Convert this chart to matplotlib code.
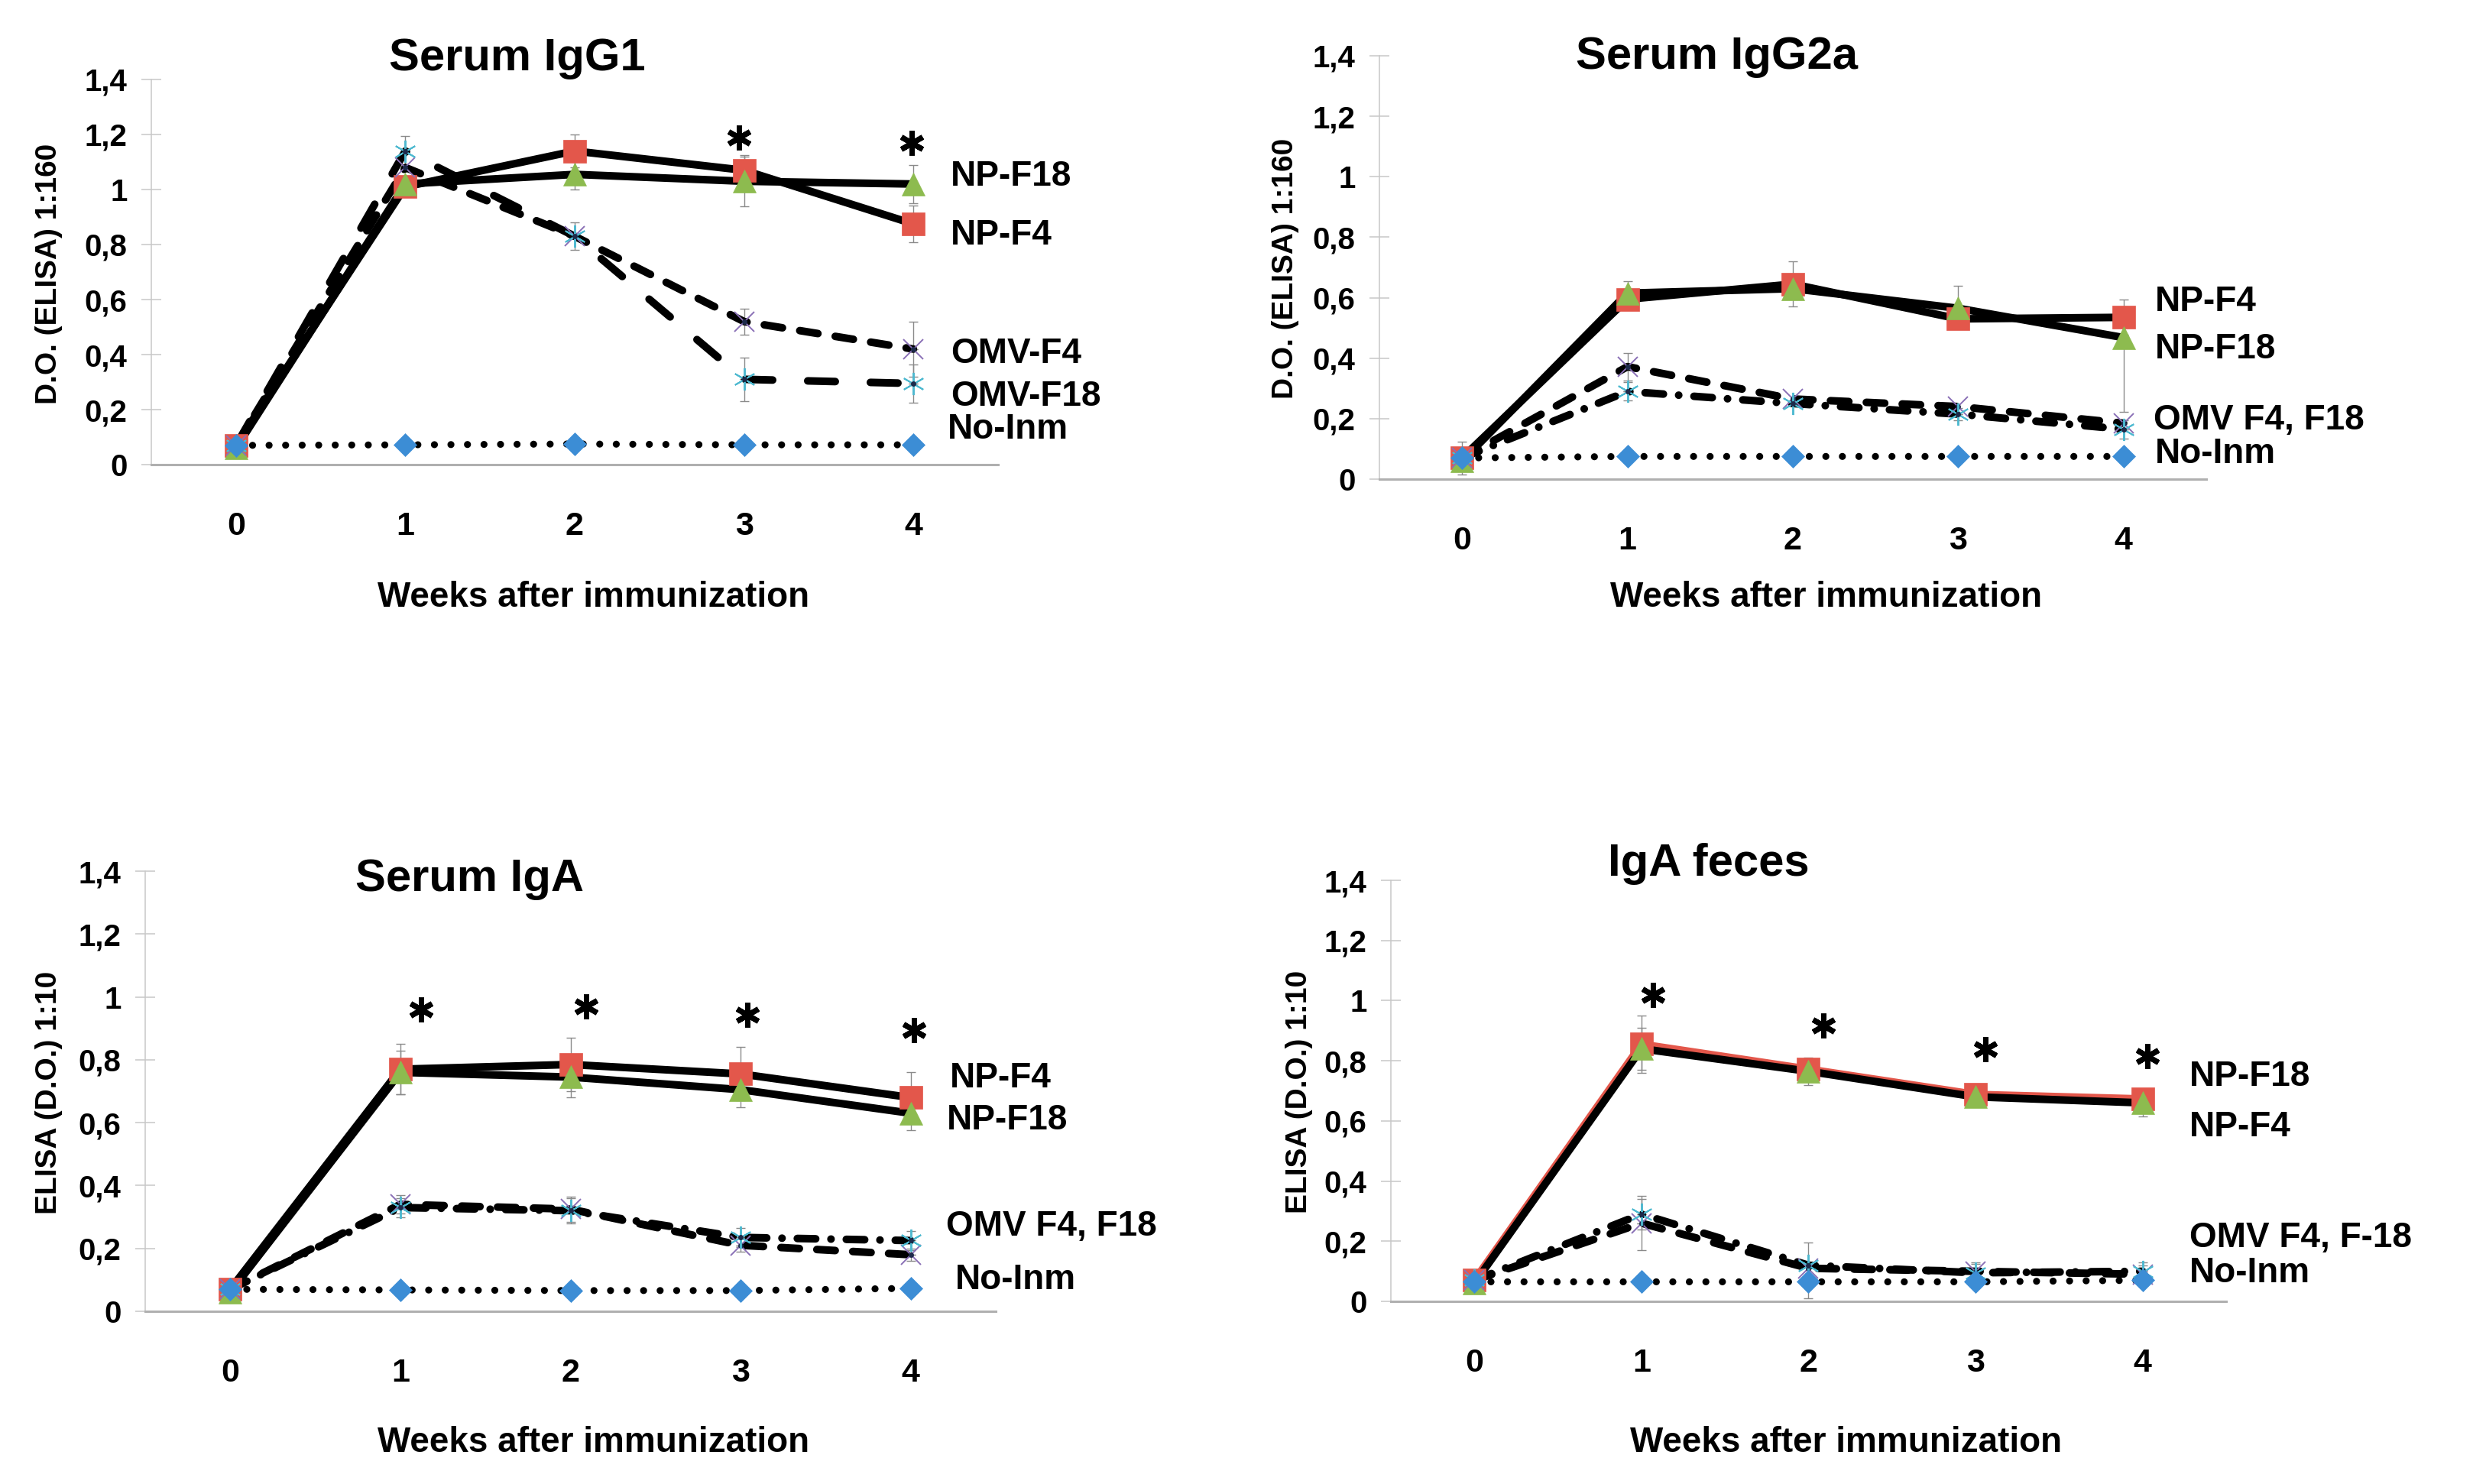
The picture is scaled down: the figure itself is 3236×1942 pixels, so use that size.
import matplotlib
matplotlib.use('Agg')
import matplotlib.pyplot as plt

W, H = 3237, 1942
DPI = 100

# ---------------- data ----------------
weeks = [0, 1, 2, 3, 4]
week_labels = ['0', '1', '2', '3', '4']
ytick_vals = [0, 0.2, 0.4, 0.6, 0.8, 1.0, 1.2, 1.4]
ytick_labels = ['0', '0,2', '0,4', '0,6', '0,8', '1', '1,2', '1,4']

# Serum IgG1
igg1_np_f4 = [0.07, 1.01, 1.14, 1.07, 0.875]
igg1_np_f18 = [0.06, 1.02, 1.055, 1.03, 1.02]
igg1_omv_f4 = [0.07, 1.08, 0.83, 0.52, 0.42]
igg1_omv_f18 = [0.07, 1.14, 0.83, 0.31, 0.295]
igg1_no_inm = [0.07, 0.072, 0.075, 0.072, 0.072]
igg1_np_f4_err = [0.02, 0.0, 0.06, 0.056, 0.067]
igg1_np_f18_err = [0.0, 0.0, 0.055, 0.09, 0.07]
igg1_omv_f4_err = [0.0, 0.0, 0.0, 0.047, 0.10]
igg1_omv_f18_err = [0.0, 0.055, 0.05, 0.08, 0.07]

# Serum IgG2a
igg2a_np_f4 = [0.07, 0.595, 0.645, 0.53, 0.535]
igg2a_np_f18 = [0.06, 0.615, 0.63, 0.565, 0.468]
igg2a_omv_f4 = [0.07, 0.372, 0.265, 0.24, 0.185]
igg2a_omv_f18 = [0.07, 0.29, 0.25, 0.215, 0.165]
igg2a_no_inm = [0.07, 0.075, 0.075, 0.075, 0.075]
igg2a_np_f4_err = [0.055, 0.0, 0.075, 0.0, 0.058]
igg2a_np_f18_err_lo = [0.0, 0.0, 0.0, 0.0, 0.245]
igg2a_np_f18_err_hi = [0.0, 0.04, 0.0, 0.075, 0.0]
igg2a_omv_f4_err = [0.0, 0.045, 0.0, 0.0, 0.0]
igg2a_omv_f18_err = [0.0, 0.03, 0.0, 0.02, 0.03]

# Serum IgA
iga_np_f4 = [0.07, 0.77, 0.785, 0.755, 0.68]
iga_np_f18 = [0.06, 0.76, 0.745, 0.705, 0.63]
iga_omv_f4 = [0.07, 0.34, 0.325, 0.21, 0.18]
iga_omv_f18 = [0.07, 0.33, 0.32, 0.235, 0.225]
iga_no_inm = [0.07, 0.068, 0.066, 0.066, 0.073]
iga_np_f4_err = [0.0, 0.08, 0.085, 0.085, 0.08]
iga_np_f18_err = [0.0, 0.07, 0.065, 0.055, 0.055]
iga_omv_f4_err = [0.0, 0.03, 0.04, 0.02, 0.02]
iga_omv_f18_err = [0.0, 0.03, 0.04, 0.03, 0.03]

# IgA feces
fec_np_f4 = [0.07, 0.855, 0.772, 0.688, 0.673]
fec_np_f18 = [0.06, 0.84, 0.765, 0.68, 0.66]
fec_omv_f4 = [0.07, 0.26, 0.11, 0.10, 0.09]
fec_omv_f18 = [0.07, 0.29, 0.12, 0.095, 0.10]
fec_no_inm = [0.065, 0.065, 0.065, 0.065, 0.07]
fec_np_f4_err = [0.0, 0.095, 0.0, 0.02, 0.03]
fec_np_f18_err = [0.0, 0.07, 0.045, 0.02, 0.045]
fec_omv_f4_err = [0.0, 0.09, 0.0, 0.03, 0.03]
fec_omv_f18_err = [0.0, 0.05, 0.075, 0.03, 0.03]
fec_no_inm_err = [0.0, 0.0, 0.055, 0.0, 0.0]

# significance marks (x, y)
igg1_star_x = [2.97, 3.99]
igg1_star_y = [1.19, 1.17]
iga_star_x = [1.12, 2.09, 3.04, 4.02]
iga_star_y = [0.96, 0.969, 0.942, 0.894]
fec_star_x = [1.07, 2.09, 3.06, 4.03]
fec_star_y = [1.018, 0.917, 0.839, 0.816]

titles = ['Serum IgG1', 'Serum IgG2a', 'Serum IgA', 'IgA feces']
ylabels = ['D.O. (ELISA) 1:160', 'D.O. (ELISA) 1:160', 'ELISA (D.O.) 1:10', 'ELISA (D.O.) 1:10']
xlabel = 'Weeks after immunization'

# right-hand series labels: (text, x, y)
igg1_tags = [('NP-F18', 4.22, 1.047), ('NP-F4', 4.22, 0.833), ('OMV-F4', 4.22, 0.403),
             ('OMV-F18', 4.22, 0.247), ('No-Inm', 4.20, 0.128)]
igg2a_tags = [('NP-F4', 4.19, 0.586), ('NP-F18', 4.19, 0.43), ('OMV F4, F18', 4.18, 0.194),
              ('No-Inm', 4.19, 0.083)]
iga_tags = [('NP-F4', 4.23, 0.741), ('NP-F18', 4.21, 0.608), ('OMV F4, F18', 4.21, 0.269),
            ('No-Inm', 4.26, 0.099)]
fec_tags = [('NP-F18', 4.28, 0.748), ('NP-F4', 4.28, 0.579), ('OMV F4, F-18', 4.28, 0.21),
            ('No-Inm', 4.28, 0.094)]

# ---------------- styles ----------------
RED = '#E3574B'
GREEN = '#8DBB4F'
PURPLE = '#8A70B6'
CYAN = '#4DB9D0'
BLUE = '#3C8DD5'
LW = 7.2
DOT_LW = 6.6
SHORT_DASH = (0, (2.4, 2.3))
LONG_DASH = (0, (3.6, 4.6))
DASH_DOT = (0, (2.4, 2.0, 0.01, 2.0))
DOT = (0, (0.01, 2.35))
STAR = (6, 2, 0)

FONT = 'Liberation Sans'
plt.rcParams['font.family'] = [FONT, 'DejaVu Sans']
plt.rcParams['font.weight'] = 'bold'

fig = plt.figure(figsize=(W / DPI, H / DPI), dpi=DPI)
fig.patch.set_facecolor('white')


def rect(l, r, t, b):
    return [l / W, 1 - b / H, (r - l) / W, (b - t) / H]


def ftext(x, y, s, **kw):
    fig.text(x / W, 1 - y / H, s, **kw)


panels = [
    dict(rect=rect(198, 1306, 104, 608), title=(677, 76), ylab=(64, 358), xlab=(777, 782),
         series=[
             (igg1_np_f4, igg1_np_f4_err, 'k', '-', 's', RED, 22, 0),
             (igg1_np_f18, igg1_np_f18_err, 'k', '-', '^', GREEN, 22, 0),
             (igg1_omv_f4, igg1_omv_f4_err, 'k', SHORT_DASH, 'x', PURPLE, 19, 1.4),
             (igg1_omv_f18, igg1_omv_f18_err, 'k', LONG_DASH, STAR, CYAN, 21, 1.4),
             (igg1_no_inm, None, 'k', DOT, 'D', BLUE, 15, 0),
         ], stars=(igg1_star_x, igg1_star_y), tags=igg1_tags),
    dict(rect=rect(1805, 2887, 73, 627), title=(2246, 74), ylab=(1682, 351), xlab=(2390, 782),
         series=[
             (igg2a_np_f4, igg2a_np_f4_err, 'k', '-', 's', RED, 22, 0),
             (igg2a_np_f18, (igg2a_np_f18_err_lo, igg2a_np_f18_err_hi), 'k', '-', '^', GREEN, 22, 0),
             (igg2a_omv_f4, igg2a_omv_f4_err, 'k', SHORT_DASH, 'x', PURPLE, 19, 1.4),
             (igg2a_omv_f18, igg2a_omv_f18_err, 'k', DASH_DOT, STAR, CYAN, 21, 1.4),
             (igg2a_no_inm, None, 'k', DOT, 'D', BLUE, 15, 0),
         ], stars=None, tags=igg2a_tags),
    dict(rect=rect(190, 1303, 1140, 1716), title=(615, 1150), ylab=(64, 1430), xlab=(777, 1888),
         series=[
             (iga_np_f4, iga_np_f4_err, 'k', '-', 's', RED, 22, 0),
             (iga_np_f18, iga_np_f18_err, 'k', '-', '^', GREEN, 22, 0),
             (iga_omv_f4, iga_omv_f4_err, 'k', SHORT_DASH, 'x', PURPLE, 19, 1.4),
             (iga_omv_f18, iga_omv_f18_err, 'k', DASH_DOT, STAR, CYAN, 21, 1.4),
             (iga_no_inm, None, 'k', DOT, 'D', BLUE, 15, 0),
         ], stars=(iga_star_x, iga_star_y), tags=iga_tags),
    dict(rect=rect(1820, 2913, 1152, 1703), title=(2236, 1130), ylab=(1700, 1429), xlab=(2416, 1888),
         series=[
             (fec_np_f4, fec_np_f4_err, RED, '-', 's', RED, 22, 0),
             (fec_np_f18, fec_np_f18_err, 'k', '-', '^', GREEN, 22, 0),
             (fec_omv_f4, fec_omv_f4_err, 'k', SHORT_DASH, 'x', PURPLE, 19, 1.4),
             (fec_omv_f18, fec_omv_f18_err, 'k', DASH_DOT, STAR, CYAN, 21, 1.4),
             (fec_no_inm, fec_no_inm_err, 'k', DOT, 'D', BLUE, 15, 0),
         ], stars=(fec_star_x, fec_star_y), tags=fec_tags),
]

for i, p in enumerate(panels):
    ax = fig.add_axes(p['rect'])
    ax.set_xlim(-0.5, 4.5)
    ax.set_ylim(0, 1.4)
    for s in ['top', 'right']:
        ax.spines[s].set_visible(False)
    ax.spines['left'].set_color('#c8c8c8')
    ax.spines['left'].set_linewidth(1.1)
    ax.spines['bottom'].set_color('#b0b0b0')
    ax.spines['bottom'].set_linewidth(2.2)
    ax.set_yticks(ytick_vals)
    ax.set_yticklabels(ytick_labels)
    ax.set_xticks(weeks)
    ax.set_xticklabels(week_labels)
    ax.tick_params(axis='y', direction='inout', length=19, width=1.1, color='#c8c8c8',
                   pad=13, labelsize=29)
    ax.tick_params(axis='x', length=0, pad=44, labelsize=31)
    for lab in ax.get_xticklabels() + ax.get_yticklabels():
        lab.set_fontweight('bold')

    # error bars
    for vals, err, lc, ls, mk, mc, ms, mew in p['series']:
        if err is None:
            continue
        if isinstance(err, tuple):
            lo, hi = err
        else:
            lo, hi = err, err
        for x, y, a, b in zip(weeks, vals, lo, hi):
            if a > 0:
                ax.errorbar([x], [y], yerr=[[a], [0]], fmt='none', ecolor='#8a8a8a',
                            elinewidth=1.0, capsize=4.5, capthick=1.0, zorder=2, clip_on=False)
            if b > 0:
                ax.errorbar([x], [y], yerr=[[0], [b]], fmt='none', ecolor='#8a8a8a',
                            elinewidth=1.0, capsize=4.5, capthick=1.0, zorder=2, clip_on=False)

    # lines
    for vals, err, lc, ls, mk, mc, ms, mew in p['series']:
        lw = DOT_LW if ls == DOT else LW
        ax.plot(weeks, vals, color=lc, lw=lw, linestyle=ls, dash_capstyle='round',
                solid_capstyle='round', solid_joinstyle='round', zorder=3, clip_on=False)

    # markers
    for vals, err, lc, ls, mk, mc, ms, mew in p['series']:
        if mk in ('x', STAR):
            ax.plot(weeks, vals, linestyle='none', marker=mk, ms=ms, mec=mc, mew=mew,
                    zorder=5, clip_on=False)
            ax.plot(weeks, vals, linestyle='none', marker='o', ms=5, mfc='#1d2a4a', mec='none',
                    zorder=5, clip_on=False)
        else:
            ax.plot(weeks, vals, linestyle='none', marker=mk, ms=ms, mfc=mc, mec=mc, mew=0.5,
                    zorder=5, clip_on=False)

    # significance marks
    if p['stars'] is not None:
        ax.plot(p['stars'][0], p['stars'][1], linestyle='none', marker=STAR, ms=23, mew=5.0,
                color='k', zorder=6, clip_on=False)

    # series tags
    for txt, x, y in p['tags']:
        ax.text(x, y, txt, fontsize=33, fontweight='bold', ha='left', va='center', clip_on=False)

    ftext(*p['title'], titles[i], fontsize=43, fontweight='bold', ha='center', va='center')
    ftext(*p['ylab'], ylabels[i], fontsize=28, fontweight='bold', ha='center', va='center',
          rotation=90)
    ftext(*p['xlab'], xlabel, fontsize=33, fontweight='bold', ha='center', va='center')

fig.savefig('out.png', dpi=DPI, facecolor='white')
